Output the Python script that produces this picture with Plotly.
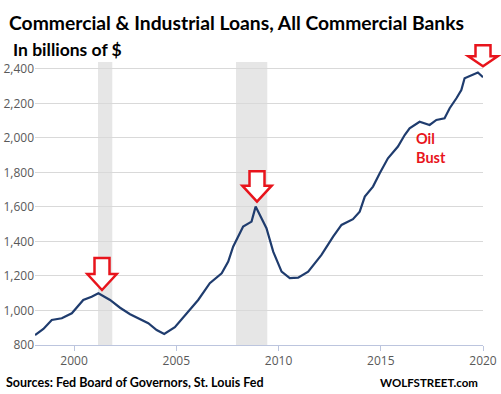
import plotly.graph_objects as go

# ---- data ----
years = [1998.09, 1998.50, 1998.91, 1999.40, 1999.89, 2000.45, 2000.86, 2001.19,
         2001.76, 2002.25, 2002.74, 2003.10, 2003.63, 2004.04, 2004.41, 2004.93,
         2005.58, 2006.07, 2006.64, 2007.22, 2007.54, 2007.78, 2008.27, 2008.68,
         2008.88, 2009.09, 2009.41, 2009.74, 2010.15, 2010.55, 2010.96, 2011.45,
         2012.10, 2012.67, 2013.08, 2013.64, 2013.97, 2014.22, 2014.62, 2014.95,
         2015.35, 2015.84, 2016.17, 2016.41, 2016.90, 2017.39, 2017.72, 2018.12,
         2018.37, 2018.70, 2018.94, 2019.10, 2019.51, 2019.75, 2020.00]
loans = [858, 893, 945, 955, 984, 1061, 1080, 1100,
         1061, 1016, 978, 955, 926, 887, 864, 903,
         993, 1061, 1158, 1215, 1283, 1370, 1486, 1515,
         1602, 1554, 1477, 1341, 1225, 1187, 1190, 1225,
         1322, 1428, 1496, 1529, 1573, 1660, 1718, 1795,
         1882, 1950, 2017, 2056, 2094, 2075, 2104, 2114,
         2172, 2230, 2278, 2346, 2365, 2379, 2352]

recessions = [(2001.17, 2001.87), (2007.92, 2009.45)]
x_ticks = [2000, 2005, 2010, 2015, 2020]
x_tick_labels = ["2000", "2005", "2010", "2015", "2020"]
y_ticks = [800, 1000, 1200, 1400, 1600, 1800, 2000, 2200, 2400]
y_tick_labels = ["800", "1,000", "1,200", "1,400", "1,600", "1,800", "2,000", "2,200", "2,400"]

W, H = 501, 394
ML, MR, MT, MB = 35, 18, 62, 49
PW, PH = W - ML - MR, H - MT - MB


def px(x):
    return (x - ML) / PW


def py(y):
    return (H - MB - y) / PH


fig = go.Figure()
fig.add_trace(go.Scatter(x=years, y=loans, mode="lines",
                         line=dict(color="#1f3c6e", width=2.2), hoverinfo="skip"))

shapes = []
for a, b in recessions:
    shapes.append(dict(type="rect", xref="x", yref="paper", x0=a, x1=b, y0=0, y1=1,
                       fillcolor="#e6e6e6", line=dict(width=0), layer="below"))


def arrow_path(hw, sw, hh, th):
    return (f"M0,0 L{-hw},{hh} L{-sw},{hh} L{-sw},{th} L{sw},{th} "
            f"L{sw},{hh} L{hw},{hh} Z")


# arrow tips in page pixels and their sizes
arrow_tips_px = [(102, 290), (257, 201.7), (483, 66.3)]
arrow_dims = [(14.7, 7.5, 16, 32), (14.7, 7.5, 16, 30.5), (14.7, 7.5, 10, 21)]
for (ax, ay), (hw, sw, hh, th) in zip(arrow_tips_px, arrow_dims):
    shapes.append(dict(type="path", xref="paper", yref="paper", xsizemode="pixel",
                       ysizemode="pixel", xanchor=px(ax), yanchor=py(ay),
                       path=arrow_path(hw, sw, hh, th),
                       fillcolor="white", line=dict(color="#e8141c", width=2.5),
                       layer="above"))

title_font = "Lato, 'Open Sans', sans-serif"
annotations = [
    dict(text="<b>Commercial & Industrial Loans, All Commercial Banks</b>",
         x=px(7), y=py(22), xanchor="left", yanchor="middle",
         font=dict(family=title_font, size=19.3, color="black")),
    dict(text="<b>In billions of $</b>",
         x=px(11), y=py(49.5), xanchor="left", yanchor="middle",
         font=dict(family=title_font, size=17.5, color="black")),
    dict(text="<b>Sources: Fed Board of Governors, St. Louis Fed</b>",
         x=px(4), y=py(382.5), xanchor="left", yanchor="middle",
         font=dict(family=title_font, size=12.5, color="black")),
    dict(text="<b>WOLFSTREET.com</b>",
         x=px(378), y=py(382.5), xanchor="left", yanchor="middle",
         font=dict(family=title_font, size=11.5, color="black")),
    dict(text="<b>Oil<br>Bust</b>", align="left",
         x=px(414), y=py(147.5), xanchor="left", yanchor="middle",
         font=dict(family=title_font, size=14.5, color="#e8141c")),
]
for a in annotations:
    a.update(xref="paper", yref="paper", showarrow=False)

fig.update_layout(
    width=W, height=H,
    margin=dict(l=ML, r=MR, t=MT, b=MB, pad=0, autoexpand=False),
    paper_bgcolor="white", plot_bgcolor="white",
    showlegend=False,
    shapes=shapes, annotations=annotations,
    xaxis=dict(range=[1998.09, 2020.0], tickvals=x_ticks, ticktext=x_tick_labels,
               showgrid=False, zeroline=False, showline=True, linecolor="#bcc5de",
               linewidth=1, ticks="outside", ticklen=5, tickcolor="#bcc5de",
               automargin=False,
               tickfont=dict(family="'Open Sans', sans-serif", size=12, color="#595959")),
    yaxis=dict(range=[800, 2440], tickvals=y_ticks, ticktext=y_tick_labels,
               showgrid=True, gridcolor="#d9d9d9", gridwidth=1, zeroline=False,
               showline=False, ticks="", automargin=False,
               tickfont=dict(family="'Open Sans', sans-serif", size=12, color="#595959")),
)

fig.write_html("out.html", config={"displayModeBar": False},
               post_script="document.body.style.margin='0';document.body.style.padding='0';")
